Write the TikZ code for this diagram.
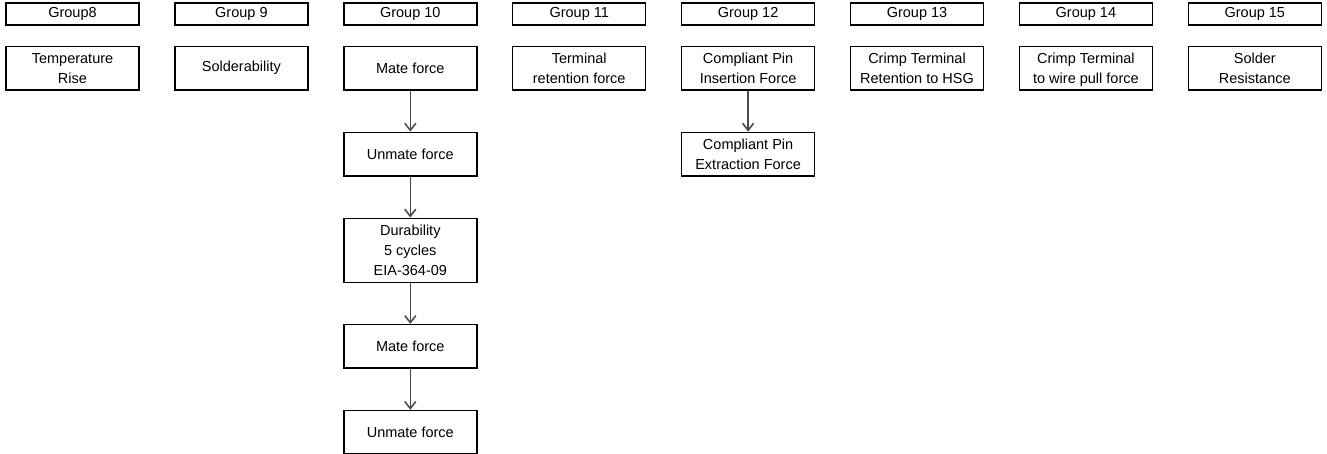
\documentclass[tikz,border=0pt]{standalone}
\usepackage{fontspec}
\setmainfont{Liberation Sans}
\usetikzlibrary{arrows.meta, positioning}
\tikzstyle{grp} = [rectangle, draw=black, line width=1.4pt, minimum width=133pt, minimum height=22pt, inner sep=0pt, text centered, font=\fontsize{14.5}{16}\selectfont]
\tikzstyle{test} = [rectangle, draw=black, line width=1.4pt, minimum width=133pt, minimum height=43.5pt, inner sep=0pt, align=center, font=\fontsize{14.5}{20}\selectfont]
\tikzset{
	DARROW/.style={line width=1.6pt, draw=black!70, arrows={-Straight Barb[length=7pt, width=11pt]}}
}

\begin{document}
\begin{tikzpicture}[x=1pt, y=-1pt]
					\useasboundingbox (0,0) rectangle (1327,453);
					% group headers
					\node (g8) [grp] at (72.5,14) {Group8};
					\node (g9) [grp, right = 34.5pt of g8] {Group 9};
					\node (g10) [grp, right = 34.5pt of g9] {Group 10};
					\node (g11) [grp, right = 34.5pt of g10] {Group 11};
					\node (g12) [grp, right = 34.5pt of g11] {Group 12};
					\node (g13) [grp, right = 34.5pt of g12] {Group 13};
					\node (g14) [grp, right = 34.5pt of g13] {Group 14};
					\node (g15) [grp, right = 34.5pt of g14] {Group 15};
					% tests
					\node (temp) [test, below = 20pt of g8] {Temperature\\Rise};
					\node (solder) [test, below = 20pt of g9] {Solderability};
					\node (mate1) [test, below = 20pt of g10] {Mate force};
					\node (unmate1) [test, below = 41pt of mate1] {Unmate force};
					\node (durab) [test, minimum height=64pt, below = 41pt of unmate1] {Durability\\5 cycles\\EIA-364-09};
					\node (mate2) [test, below = 41pt of durab] {Mate force};
					\node (unmate2) [test, below = 41pt of mate2] {Unmate force};
					\node (termret) [test, below = 20pt of g11] {Terminal\\retention force};
					\node (pinins) [test, below = 20pt of g12] {Compliant Pin\\Insertion Force};
					\node (pinext) [test, below = 41pt of pinins] {Compliant Pin\\Extraction Force};
					\node (crimphsg) [test, below = 20pt of g13] {Crimp Terminal\\Retention to HSG};
					\node (crimpwire) [test, text depth=0pt, below = 20pt of g14] {Crimp Terminal\\to wire pull force};
					\node (solderres) [test, below = 20pt of g15] {Solder\\Resistance};
					\draw [DARROW] (mate1) -- (unmate1);
					\draw [DARROW] (unmate1) -- (durab);
					\draw [DARROW] (durab) -- (mate2);
					\draw [DARROW] (mate2) -- (unmate2);
					\draw [DARROW] (pinins) -- (pinext);
				\end{tikzpicture}
\end{document}
